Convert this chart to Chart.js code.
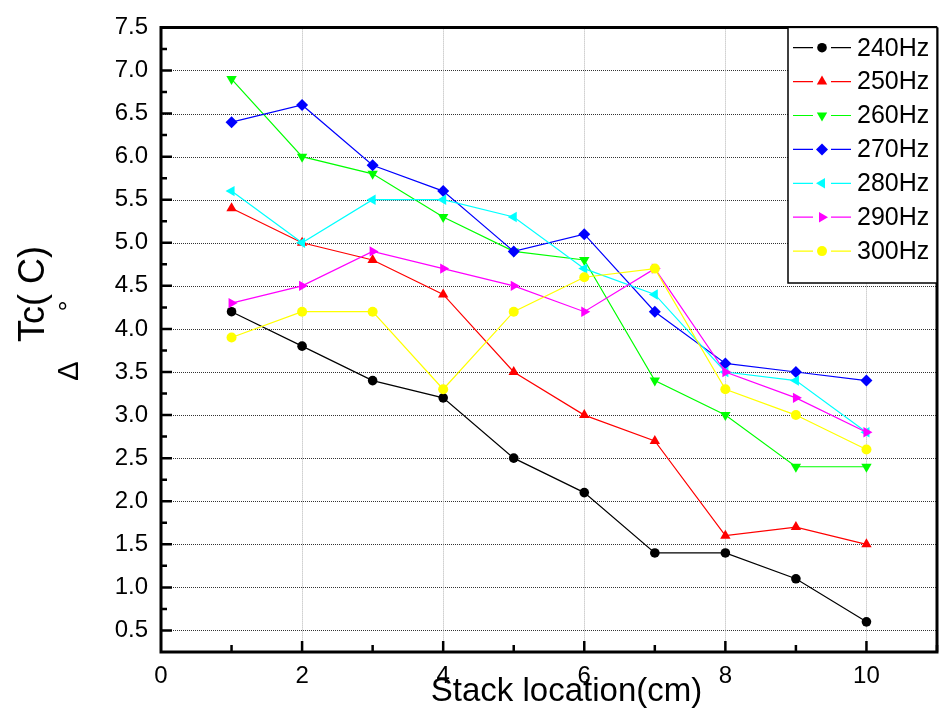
<!DOCTYPE html>
<html><head><meta charset="utf-8">
<script src="https://cdn.jsdelivr.net/npm/chart.js@4/dist/chart.umd.min.js"></script>
<style>html,body{margin:0;padding:0;background:#fff}canvas{display:block}</style>
</head><body>
<canvas id="c" width="946" height="709"></canvas>
<script>
// ---- data ----
const positions = [1, 2, 3, 4, 5, 6, 7, 8, 9, 10];
const seriesNames = ['240Hz', '250Hz', '260Hz', '270Hz', '280Hz', '290Hz', '300Hz'];
const hz240 = [4.2, 3.8, 3.4, 3.2, 2.5, 2.1, 1.4, 1.4, 1.1, 0.6];
const hz250 = [5.4, 5.0, 4.8, 4.4, 3.5, 3.0, 2.7, 1.6, 1.7, 1.5];
const hz260 = [6.9, 6.0, 5.8, 5.3, 4.9, 4.8, 3.4, 3.0, 2.4, 2.4];
const hz270 = [6.4, 6.6, 5.9, 5.6, 4.9, 5.1, 4.2, 3.6, 3.5, 3.4];
const hz280 = [5.6, 5.0, 5.5, 5.5, 5.3, 4.7, 4.4, 3.5, 3.4, 2.8];
const hz290 = [4.3, 4.5, 4.9, 4.7, 4.5, 4.2, 4.7, 3.5, 3.2, 2.8];
const hz300 = [3.9, 4.2, 4.2, 3.3, 4.2, 4.6, 4.7, 3.3, 3.0, 2.6];
const xTicks = [0, 2, 4, 6, 8, 10];
const yTicks = [0.5, 1.0, 1.5, 2.0, 2.5, 3.0, 3.5, 4.0, 4.5, 5.0, 5.5, 6.0, 6.5, 7.0, 7.5];
const xTitle = 'Stack location(cm)';
const yTitle = 'Tc( C)';
const yTitleDeg = '°';
const yTitleDelta = 'Δ';

// ---- styles ----
const seriesValues = [hz240, hz250, hz260, hz270, hz280, hz290, hz300];
const colors = ['#000000', '#ff0000', '#00ff00', '#0000ff', '#00ffff', '#ff00ff', '#ffff00'];
const styles = [
  {pointStyle: 'circle', rotation: 0, radius: 4.8},
  {pointStyle: 'triangle', rotation: 0, radius: 6},
  {pointStyle: 'triangle', rotation: 180, radius: 6},
  {pointStyle: 'rectRot', rotation: 0, radius: 6},
  {pointStyle: 'triangle', rotation: 270, radius: 6},
  {pointStyle: 'triangle', rotation: 90, radius: 6},
  {pointStyle: 'circle', rotation: 0, radius: 5}
];
const FONT = '"Liberation Sans", Arial, sans-serif';

const datasets = seriesNames.map((name, i) => ({
  label: name,
  data: positions.map((x, j) => ({x: x, y: seriesValues[i][j]})),
  borderColor: colors[i],
  backgroundColor: colors[i],
  pointBackgroundColor: colors[i],
  pointBorderWidth: 0,
  pointStyle: styles[i].pointStyle,
  pointRotation: styles[i].rotation,
  pointRadius: styles[i].radius,
  pointHoverRadius: styles[i].radius,
  borderWidth: 1.2,
  tension: 0,
  fill: false,
  order: seriesNames.length - i
}));

function drawMarker(ctx, st, color, x, y) {
  ctx.save();
  ctx.fillStyle = color;
  ctx.strokeStyle = color;
  if (Chart.helpers && Chart.helpers.drawPoint) {
    Chart.helpers.drawPoint(ctx, {pointStyle: st.pointStyle, rotation: st.rotation, radius: st.radius, borderWidth: 0}, x, y);
  } else {
    ctx.beginPath();
    ctx.arc(x, y, st.radius, 0, Math.PI * 2);
    ctx.fill();
  }
  ctx.restore();
}

const framePlugin = {
  id: 'framePlugin',
  beforeDatasetsDraw(chart) {
    const {ctx, chartArea: a, scales: {x, y}} = chart;
    ctx.save();
    ctx.lineWidth = 1;
    ctx.setLineDash([1, 1]);
    ctx.strokeStyle = '#333333';
    yTicks.forEach(v => {
      if (v >= 7.5) return;
      const py = Math.round(y.getPixelForValue(v)) + 0.5;
      ctx.beginPath(); ctx.moveTo(a.left, py); ctx.lineTo(a.right, py); ctx.stroke();
    });
    ctx.strokeStyle = '#b4b4b4';
    xTicks.forEach(v => {
      if (v <= 0) return;
      const px = Math.round(x.getPixelForValue(v)) + 0.5;
      ctx.beginPath(); ctx.moveTo(px, a.top); ctx.lineTo(px, a.bottom); ctx.stroke();
    });
    ctx.restore();
  },
  afterDatasetsDraw(chart) {
    const {ctx, chartArea: a, scales: {x, y}} = chart;
    ctx.save();
    // frame
    ctx.strokeStyle = '#000';
    ctx.lineWidth = 3;
    ctx.beginPath();
    ctx.moveTo(a.left, a.top); ctx.lineTo(a.right, a.top);
    ctx.moveTo(a.right, a.top); ctx.lineTo(a.right, a.bottom);
    ctx.moveTo(a.left - 1.5, a.bottom); ctx.lineTo(a.right + 1.5, a.bottom);
    ctx.moveTo(a.left, a.top - 1.5); ctx.lineTo(a.left, a.bottom + 1.5);
    ctx.stroke();
    // ticks
    ctx.lineWidth = 2.5;
    ctx.beginPath();
    for (let i = 0; i < yTicks.length; i++) {
      const v = yTicks[i];
      const py = y.getPixelForValue(v);
      if (v < 7.5) { ctx.moveTo(a.left, py); ctx.lineTo(a.left + 11, py); }
      const m = v - 0.25;
      const pm = y.getPixelForValue(m);
      if (m > 0.3) { ctx.moveTo(a.left, pm); ctx.lineTo(a.left + 6, pm); }
    }
    for (let i = 0; i < xTicks.length; i++) {
      const v = xTicks[i];
      const px = x.getPixelForValue(v);
      if (v > 0) { ctx.moveTo(px, a.bottom); ctx.lineTo(px, a.bottom - 11); }
      const pm = x.getPixelForValue(v + 1);
      ctx.moveTo(pm, a.bottom); ctx.lineTo(pm, a.bottom - 7);
    }
    ctx.stroke();

    // legend
    const lx = 788, ly = a.top, lw = a.right - 788, lh = 283 - a.top;
    ctx.fillStyle = '#fff';
    ctx.fillRect(lx, ly, lw, lh);
    ctx.lineWidth = 1.5;
    ctx.strokeStyle = '#000';
    ctx.strokeRect(lx, ly, lw, lh);
    chart.data.datasets.forEach((ds, i) => {
      const cy = 47.7 + i * 33.9;
      ctx.strokeStyle = ds.borderColor;
      ctx.lineWidth = 1.2;
      ctx.beginPath();
      ctx.moveTo(793, cy); ctx.lineTo(813, cy);
      ctx.moveTo(831, cy); ctx.lineTo(851, cy);
      ctx.stroke();
      drawMarker(ctx, styles[i], ds.borderColor, 822, cy);
      ctx.fillStyle = '#000';
      ctx.font = '25px ' + FONT;
      ctx.textAlign = 'left';
      ctx.textBaseline = 'middle';
      ctx.fillText(ds.label, 857, cy + 1);
    });
    ctx.restore();
  },
  afterDraw(chart) {
    const ctx = chart.ctx;
    ctx.save();
    ctx.fillStyle = '#000';
    ctx.textBaseline = 'alphabetic';
    ctx.textAlign = 'center';
    ctx.font = '33px ' + FONT;
    ctx.fillText(xTitle, 566.5, 701);
    // y title rotated
    ctx.save();
    ctx.translate(43.5, 294);
    ctx.rotate(-Math.PI / 2);
    ctx.font = '36px ' + FONT;
    ctx.fillText(yTitle, 0, 0);
    ctx.restore();
    ctx.save();
    ctx.translate(78, 306);
    ctx.rotate(-Math.PI / 2);
    ctx.font = '28px ' + FONT;
    ctx.fillText(yTitleDeg, 0, 0);
    ctx.restore();
    ctx.save();
    ctx.translate(78, 371);
    ctx.rotate(-Math.PI / 2);
    ctx.font = '29px ' + FONT;
    ctx.fillText(yTitleDelta, 0, 0);
    ctx.restore();
    ctx.restore();
  }
};

new Chart(document.getElementById('c'), {
  type: 'line',
  data: {datasets: datasets},
  options: {
    responsive: false,
    animation: false,
    events: [],
    layout: {padding: {top: 24, right: 9, left: 0, bottom: 0}},
    plugins: {legend: {display: false}, tooltip: {enabled: false}, title: {display: false}},
    scales: {
      x: {
        type: 'linear', min: 0, max: 11,
        grid: {display: false, drawTicks: false},
        border: {display: false},
        afterBuildTicks: s => { s.ticks = xTicks.map(v => ({value: v})); },
        afterFit: s => { s.height = 57; },
        ticks: {color: '#000', padding: 10, maxRotation: 0, font: {family: FONT, size: 24}, callback: v => String(v)}
      },
      y: {
        type: 'linear', min: 0.25, max: 7.5,
        grid: {display: false, drawTicks: false},
        border: {display: false},
        afterBuildTicks: s => { s.ticks = yTicks.map(v => ({value: v})); },
        afterFit: s => { s.width = 161; },
        ticks: {color: '#000', padding: 13, font: {family: FONT, size: 24}, callback: v => Number(v).toFixed(1)}
      }
    }
  },
  plugins: [framePlugin]
});
</script>
</body></html>
